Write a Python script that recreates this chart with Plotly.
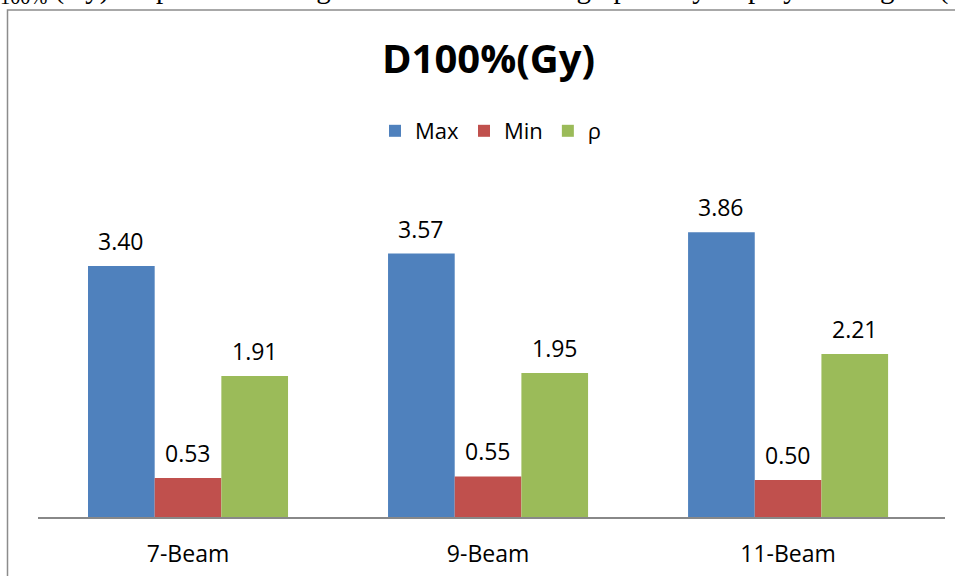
import plotly.graph_objects as go

categories = ["7-Beam", "9-Beam", "11-Beam"]
series_names = ["Max", "Min", "ρ"]
max_vals = [3.40, 3.57, 3.86]
min_vals = [0.53, 0.55, 0.50]
rho_vals = [1.91, 1.95, 2.21]
colors = ["#4F81BD", "#C0504D", "#9BBB59"]
title_text = "<b>D100%(Gy)</b>"
top_text = "<sub>100%</sub> (Gy) of ipsi-lateral lung is also recorded and graphically displayed in figure ("

FONT = "Open Sans"
W, H = 955, 576
L, R, T, B = 38, 10, 148, 59
plot_w = W - L - R
plot_h = H - T - B
y_max = 5.0

all_vals = [max_vals, min_vals, rho_vals]

fig = go.Figure()
for name, vals, col in zip(series_names, all_vals, colors):
    fig.add_trace(go.Bar(
        name=name, x=categories, y=vals,
        marker=dict(color=col, line=dict(width=0)),
    ))

# data labels above bars
cat_px = plot_w / 3.023
bar_px = cat_px * (2 / 3) / 3
annotations = []
for i, vals in enumerate(all_vals):
    for c, v in zip(categories, vals):
        annotations.append(dict(
            x=c, y=v, xref="x", yref="y", text=f"{v:.2f}",
            showarrow=False, xshift=(i - 1) * bar_px, yshift=25,
            yanchor="middle", xanchor="center",
            font=dict(family=FONT, size=23, color="#000000"),
        ))

def py(px):
    return (H - B - px) / plot_h

def pxx(px):
    return (px - L) / plot_w

annotations.append(dict(
    x=pxx(488), y=py(57), xref="paper", yref="paper", text=title_text,
    showarrow=False, xanchor="center", yanchor="middle",
    font=dict(family=FONT, size=40, color="#000000"),
))

annotations.append(dict(
    x=pxx(-2), y=py(-10), xref="paper", yref="paper", text=top_text,
    showarrow=False, xanchor="left", yanchor="middle",
    font=dict(family="Liberation Serif", size=29, color="#000000"),
))

fig.update_layout(
    width=W, height=H,
    margin=dict(l=L, r=R, t=T, b=B, pad=0, autoexpand=False),
    paper_bgcolor="white", plot_bgcolor="white",
    barmode="group", bargap=1/3, bargroupgap=0,
    showlegend=True,
    legend=dict(
        orientation="h", x=pxx(491), xanchor="center", y=py(131), yanchor="middle",
        font=dict(family=FONT, size=22, color="#000000"),
        traceorder="normal", itemwidth=30,
    ),
    xaxis=dict(
        type="category", range=[-0.5, 2.523], automargin=False,
        showline=True, linecolor="#888888", linewidth=2,
        showgrid=False, zeroline=False, ticks="",
        tickfont=dict(family=FONT, size=23, color="#000000"),
        ticklabelstandoff=15,
    ),
    yaxis=dict(
        range=[0, y_max], showticklabels=False, showgrid=False, automargin=False,
        zeroline=False, showline=False, ticks="",
    ),
    annotations=annotations,
    shapes=[dict(
        type="rect", xref="paper", yref="paper",
        x0=pxx(7.5), x1=pxx(1000), y0=py(600), y1=py(10),
        line=dict(color="#8C8C8C", width=1.5), fillcolor="rgba(0,0,0,0)",
        layer="below",
    )],
)

fig.write_html(
    "out.html",
    config={"displayModeBar": False},
    post_script="document.body.style.margin='0';document.body.style.overflow='hidden';",
)
